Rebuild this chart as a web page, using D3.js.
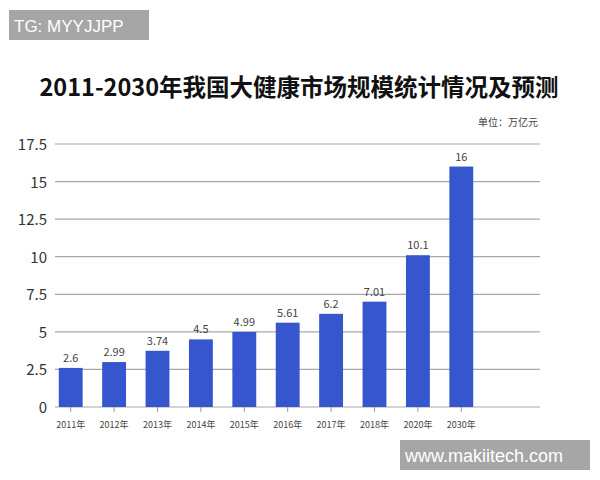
<!DOCTYPE html>
<html><head><meta charset="utf-8">
<script src="https://cdn.jsdelivr.net/npm/d3@7"></script>
<style>body{margin:0;background:#fff}svg{display:block}</style>
</head><body>
<script>
const categories=["2011年","2012年","2013年","2014年","2015年","2016年","2017年","2018年","2020年","2030年"];
const values=[2.6,2.99,3.74,4.5,4.99,5.61,6.2,7.01,10.1,16];
const valueLabels=["2.6","2.99","3.74","4.5","4.99","5.61","6.2","7.01","10.1","16"];
const yTicks=[0,2.5,5,7.5,10,12.5,15,17.5];
const yTickLabels=["0","2.5","5","7.5","10","12.5","15","17.5"];

const W=600,H=480;
const svg=d3.select("body").append("svg").attr("width",W).attr("height",H);
const font="'Noto Sans CJK SC','Noto Sans',sans-serif";
const x=d3.scaleBand().domain(categories).range([49,483]).paddingInner(0.45).paddingOuter(0.225);
const y=d3.scaleLinear().domain([0,17.5]).range([407,144]);

svg.append("g").selectAll("line").data(yTicks).join("line")
 .attr("x1",55).attr("x2",540).attr("y1",d=>y(d)).attr("y2",d=>y(d))
 .attr("stroke","#a8a8a8").attr("stroke-width",1.2);
svg.append("g").selectAll("text").data(yTicks).join("text")
 .attr("x",47).attr("y",d=>y(d)+6).attr("text-anchor","end")
 .attr("font-family",font).attr("font-size",15).attr("fill","#333")
 .text((d,i)=>yTickLabels[i]);

svg.append("g").selectAll("rect").data(values).join("rect")
 .attr("x",(d,i)=>x(categories[i])).attr("width",x.bandwidth())
 .attr("y",d=>y(d)).attr("height",d=>y(0)-y(d)).attr("fill","#3556cc");
svg.append("g").selectAll("text").data(values).join("text")
 .attr("x",(d,i)=>x(categories[i])+x.bandwidth()/2).attr("y",d=>y(d)-6)
 .attr("text-anchor","middle").attr("font-family",font).attr("font-size",11).attr("fill","#444")
 .text((d,i)=>valueLabels[i]);
svg.append("g").selectAll("line").data(categories).join("line")
 .attr("x1",d=>x(d)+x.bandwidth()/2).attr("x2",d=>x(d)+x.bandwidth()/2)
 .attr("y1",407).attr("y2",412).attr("stroke","#999");
svg.append("g").selectAll("text").data(categories).join("text")
 .attr("x",d=>x(d)+x.bandwidth()/2).attr("y",428).attr("text-anchor","middle")
 .attr("font-family",font).attr("font-size",9).attr("fill","#444").text(d=>d);

svg.append("text").attr("x",299).attr("y",96).attr("text-anchor","middle")
 .attr("font-family",font).attr("font-weight","bold").attr("font-size",23.5).attr("fill","#111")
 .text("2011-2030年我国大健康市场规模统计情况及预测");
svg.append("text").attr("x",538).attr("y",126).attr("text-anchor","end")
 .attr("font-family",font).attr("font-size",10).attr("fill","#444").text("单位：万亿元");

svg.append("rect").attr("x",9).attr("y",10).attr("width",140).attr("height",30).attr("fill","#a6a6a6");
svg.append("text").attr("x",14).attr("y",32).attr("font-family","'Liberation Sans',sans-serif").attr("font-size",17).attr("fill","#fff").text("TG: MYYJJPP");
svg.append("rect").attr("x",400).attr("y",440).attr("width",190).attr("height",30).attr("fill","#a6a6a6");
svg.append("text").attr("x",405).attr("y",462).attr("font-family","'Liberation Sans',sans-serif").attr("font-size",18).attr("fill","#fff").text("www.makiitech.com");
</script>
</body></html>
